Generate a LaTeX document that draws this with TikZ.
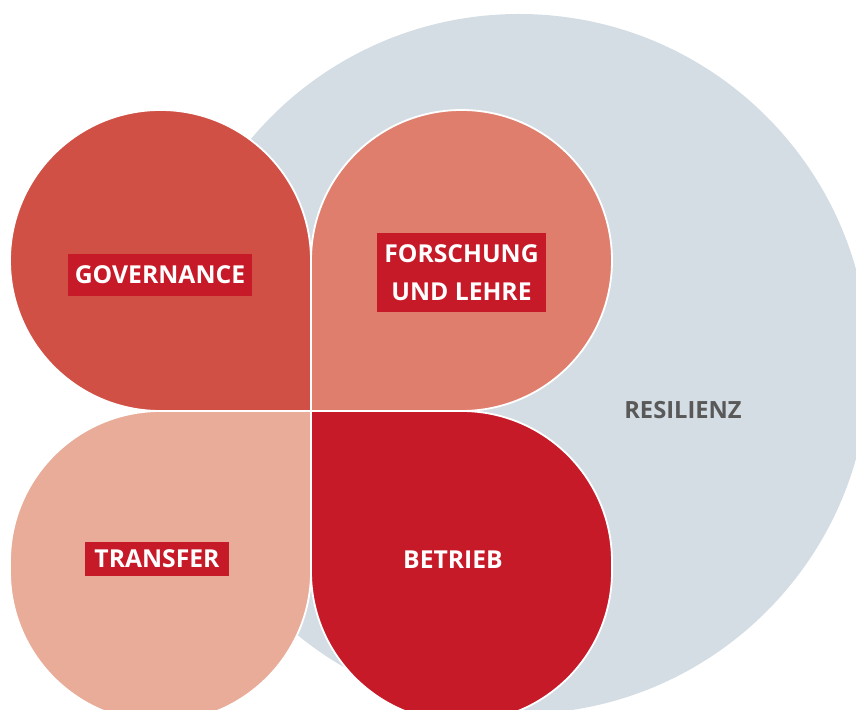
\documentclass[tikz,border=0pt]{standalone}
\usepackage{fontspec}
\setmainfont{Open Sans}
\definecolor{resbg}{RGB}{212,221,228}
\definecolor{cTL}{RGB}{209,80,69}
\definecolor{cTR}{RGB}{223,126,109}
\definecolor{cBL}{RGB}{232,172,153}
\definecolor{cBR}{RGB}{198,26,40}
\definecolor{tagred}{RGB}{198,26,40}
\definecolor{restext}{RGB}{89,89,89}
\begin{document}
\begin{tikzpicture}[x=1pt,y=1pt,
  petal/.style={draw=white, line width=1.8pt, line join=round},
  tag/.style={fill=tagred, text=white, inner sep=0pt, align=center,
    font=\bfseries\fontsize{24.7}{38}\selectfont},
  capline/.style={text height=18pt, text depth=0pt}]
\useasboundingbox (0,0) rectangle (856,709);
\begin{scope}
  \clip (0,0) rectangle (856,709);
  % Resilienz circle
  \fill[resbg] (519,345) circle[radius=350];
  % top-left petal
  \path[petal, fill=cTL] (311,298) -- (160.5,298)
    arc[start angle=270, end angle=0, radius=150.5] -- cycle;
  % top-right petal
  \path[petal, fill=cTR] (311,298) -- (311,448.5)
    arc[start angle=180, end angle=-90, radius=150.5] -- cycle;
  % bottom-left petal
  \path[petal, fill=cBL] (311,298) -- (160.5,298)
    arc[start angle=90, end angle=180, radius=150.5] -- (10,137.5)
    arc[start angle=180, end angle=360, radius=150.5] -- cycle;
  % bottom-right petal
  \path[petal, fill=cBR] (311,298) -- (461.5,298)
    arc[start angle=90, end angle=0, radius=150.5] -- (612,137.5)
    arc[start angle=0, end angle=-180, radius=150.5] -- cycle;
\end{scope}
\node[tag, capline, minimum width=184pt, minimum height=42pt] (gov) at (160,434) {GOVERNANCE};
\node[tag, minimum width=169pt, minimum height=79pt] (fl) at (461.5,436.5) {FORSCHUNG\\UND LEHRE};
\node[tag, capline, minimum width=144pt, minimum height=34pt] (tra) at (157,150) {TRANSFER};
\node[tag, capline, fill=none] (bet) at (453,149.5) {BETRIEB};
\node[capline, inner sep=0pt, text=restext, font=\bfseries\fontsize{23.7}{30}\selectfont] (res) at (683,299.5) {RESILIENZ};
\end{tikzpicture}
\end{document}
